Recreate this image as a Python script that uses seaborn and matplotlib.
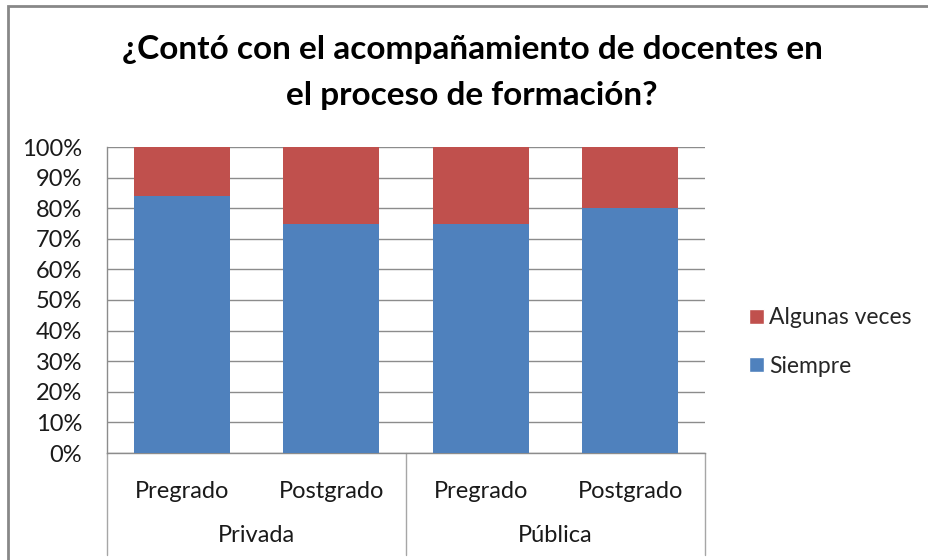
import matplotlib
matplotlib.use("Agg")
import matplotlib.pyplot as plt
import seaborn as sns
import pandas as pd
from matplotlib.lines import Line2D
from matplotlib.patches import Rectangle, Patch

# Data
grupos = ["Privada", "Privada", "Pública", "Pública"]
niveles = ["Pregrado", "Postgrado", "Pregrado", "Postgrado"]
siempre = [84, 75, 75, 80]
algunas_veces = [16, 25, 25, 20]
yticks = [0, 10, 20, 30, 40, 50, 60, 70, 80, 90, 100]

BLUE = "#4F81BD"
RED = "#C0504D"
GRID = "#8C8C8C"
SEP = "#A6A6A6"
TXT = "#1a1a1a"

sns.set_theme(style="white")
plt.rcParams['font.family'] = ['Lato', 'DejaVu Sans']

keys = [f"{g}-{n}" for g, n in zip(grupos, niveles)]
df = pd.DataFrame({"key": keys, "siempre": siempre,
                   "total": [s + a for s, a in zip(siempre, algunas_veces)]})

fig = plt.figure(figsize=(9.29, 5.6), dpi=100)
ax = fig.add_axes([107/929, 1-453/560, 598/929, 306/560])

sns.barplot(data=df, x="key", y="total", color=RED, width=0.64, saturation=1,
            ax=ax, zorder=3, edgecolor="none")
sns.barplot(data=df, x="key", y="siempre", color=BLUE, width=0.64, saturation=1,
            ax=ax, zorder=3, edgecolor="none")

ax.set_ylim(0, 100)
ax.set_xlim(-0.5, len(keys) - 0.5)
ax.set_yticks(yticks)
ax.set_yticklabels([f"{v}%" for v in yticks], fontsize=17, color=TXT)
ax.yaxis.grid(True, color=GRID, linewidth=1, zorder=0)
ax.set_axisbelow(True)
ax.tick_params(axis="y", left=False, length=0, pad=18)
ax.set_xticks(range(len(keys)))
ax.set_xticklabels(niveles, fontsize=17, color=TXT)
ax.tick_params(axis="x", bottom=False, pad=14)
ax.set_xlabel("")
ax.set_ylabel("")
for s in ["top", "right"]:
    ax.spines[s].set_visible(False)
for s in ["left", "bottom"]:
    ax.spines[s].set_color(GRID)
    ax.spines[s].set_linewidth(1)

# Group separators and labels
trans = ax.get_xaxis_transform()
for xv in [-0.5, 1.5, 3.5]:
    ax.add_line(Line2D([xv, xv], [0, -(555-453)/306], transform=trans,
                       color=SEP, linewidth=1, clip_on=False))
for i, g in enumerate(["Privada", "Pública"]):
    ax.text(2*i + 0.5, -(536-453)/306, g, transform=trans, ha="center", va="center",
            fontsize=17, color=TXT)

# Title
fig.text(472/929, 1-50/560, "¿Contó con el acompañamiento de docentes en",
         ha="center", va="center", fontsize=24, fontweight="bold", color="#000000")
fig.text(472/929, 1-95/560, "el proceso de formación?",
         ha="center", va="center", fontsize=24, fontweight="bold", color="#000000")

# Legend
handles = [Patch(facecolor=RED, label="Algunas veces"),
           Patch(facecolor=BLUE, label="Siempre")]
fig.legend(handles=handles, loc="center left", bbox_to_anchor=(728/929, 1-342/560),
           frameon=False, fontsize=16.5, handlelength=0.65, handleheight=0.65,
           handletextpad=0.25, labelspacing=1.2)

# Chart border
fig.patches.append(Rectangle((8/929, -0.05), 1.0, 1.05 - 6/560, transform=fig.transFigure,
                             fill=False, edgecolor="#888888", linewidth=2))

fig.savefig("out.png", dpi=100)
